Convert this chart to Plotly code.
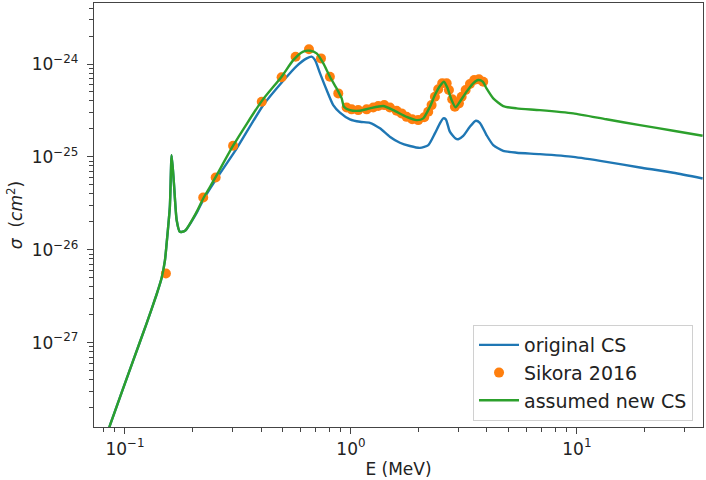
import plotly.graph_objects as go

# cross sections (E in MeV, sigma in cm^2)
e_new = [0.085, 0.0858, 0.1088, 0.1247, 0.138, 0.1454, 0.1503, 0.1529, 0.158, 0.1609,
         0.1647, 0.1694, 0.175, 0.1843, 0.2076, 0.222, 0.25, 0.301, 0.403, 0.4935,
         0.5555, 0.615, 0.659, 0.705, 0.754, 0.807, 0.864, 0.91, 0.931, 0.99,
         1.097, 1.213, 1.39, 1.539, 1.764, 1.953, 2.089, 2.237, 2.353, 2.476,
         2.58, 2.667, 2.79, 2.905, 3.034, 3.25, 3.475, 3.66, 3.83, 3.98,
         4.264, 4.72, 5.41, 6.86, 9.63, 13.5, 19.0, 26.7, 36.0]
sigma_new = [1.2e-28, 1.29e-28, 6.45e-28, 1.61e-27, 3.3e-27, 5.0e-27, 7.7e-27, 1.17e-26, 2.9e-26, 1.04e-25,
             5.2e-26, 2.08e-26, 1.56e-26, 1.6e-26, 2.56e-26, 3.57e-26, 5.86e-26, 1.32e-25, 3.99e-25, 7.3e-25,
             1.1e-24, 1.36e-24, 1.39e-24, 1.3e-24, 1.02e-24, 7.3e-25, 5.47e-25, 4.27e-25, 3.47e-25, 3.19e-25,
             3.14e-25, 3.33e-25, 3.53e-25, 3.19e-25, 2.7e-25, 2.49e-25, 2.6e-25, 3.47e-25, 4.63e-25, 5.79e-25,
             6.45e-25, 5.61e-25, 4.09e-25, 3.41e-25, 3.93e-25, 5.04e-25, 6.2e-25, 6.73e-25, 6.45e-25, 5.47e-25,
             4.27e-25, 3.53e-25, 3.33e-25, 3.19e-25, 2.94e-25, 2.54e-25, 2.2e-25, 1.91e-25, 1.69e-25]

e_orig = [0.085, 0.0858, 0.1088, 0.1247, 0.138, 0.1454, 0.1503, 0.1529, 0.158, 0.1609,
          0.1647, 0.1694, 0.175, 0.1843, 0.2076, 0.222, 0.25, 0.312, 0.409, 0.5017,
          0.575, 0.637, 0.67, 0.694, 0.73, 0.781, 0.835, 0.894, 0.99, 1.097,
          1.213, 1.344, 1.486, 1.647, 1.824, 2.02, 2.2, 2.353, 2.476, 2.562,
          2.63, 2.74, 2.905, 2.985, 3.14, 3.36, 3.57, 3.72, 3.98, 4.264,
          4.72, 5.41, 6.86, 9.63, 13.5, 19.0, 26.7, 36.0]
sigma_orig = [1.2e-28, 1.29e-28, 6.45e-28, 1.61e-27, 3.3e-27, 5.0e-27, 7.7e-27, 1.17e-26, 2.9e-26, 1.04e-25,
              5.2e-26, 2.08e-26, 1.56e-26, 1.6e-26, 2.5e-26, 3.45e-26, 5.5e-26, 1.23e-25, 3.6e-25, 6.6e-25,
              9.5e-25, 1.15e-24, 1.2e-24, 1.1e-24, 7.94e-25, 5.25e-25, 3.61e-25, 3.0e-25, 2.54e-25, 2.39e-25,
              2.33e-25, 2.03e-25, 1.65e-25, 1.42e-25, 1.31e-25, 1.25e-25, 1.34e-25, 1.79e-25, 2.3e-25, 2.6e-25,
              2.54e-25, 1.87e-25, 1.58e-25, 1.55e-25, 1.68e-25, 2.11e-25, 2.45e-25, 2.33e-25, 1.72e-25, 1.34e-25,
              1.16e-25, 1.11e-25, 1.07e-25, 1.0e-25, 8.85e-26, 7.7e-26, 6.75e-26, 5.86e-26]

# Sikora 2016 measured points
e_sikora = [0.1518, 0.222, 0.252, 0.301, 0.403, 0.4935, 0.569, 0.652, 0.737, 0.807,
            0.879, 0.957, 1.007, 1.077, 1.174, 1.255, 1.321, 1.404, 1.488, 1.593,
            1.676, 1.764, 1.867, 1.985, 2.110, 2.198, 2.275, 2.353, 2.434, 2.535,
            2.652, 2.714, 2.807, 2.884, 3.006, 3.09, 3.218, 3.362, 3.512, 3.685, 3.85]
sigma_sikora = [5.56e-27, 3.66e-26, 6.0e-26, 1.32e-25, 3.93e-25, 7.2e-25, 1.2e-24, 1.44e-24, 1.15e-24, 7.3e-25,
                4.83e-25, 3.41e-25, 3.25e-25, 3.19e-25, 3.25e-25, 3.41e-25, 3.53e-25, 3.61e-25, 3.41e-25, 3.14e-25,
                2.94e-25, 2.7e-25, 2.54e-25, 2.49e-25, 2.67e-25, 3.06e-25, 3.61e-25, 4.45e-25, 5.34e-25, 6.2e-25,
                6.2e-25, 5.25e-25, 4.17e-25, 3.47e-25, 3.77e-25, 4.45e-25, 5.25e-25, 6.09e-25, 6.73e-25, 6.84e-25, 6.45e-25]

x_ticks = [0.1, 1, 10]
x_labels = ["10<sup>−1</sup>", "10<sup>0</sup>", "10<sup>1</sup>"]
y_ticks = [1e-27, 1e-26, 1e-25, 1e-24]
y_labels = ["10<sup>−27</sup>", "10<sup>−26</sup>", "10<sup>−25</sup>", "10<sup>−24</sup>"]

x_minor = [m * 10.0 ** k for k in (-2, -1, 0, 1) for m in range(2, 10)]
y_minor = [m * 10.0 ** k for k in (-29, -28, -27, -26, -25, -24) for m in range(2, 10)]

fig = go.Figure()
fig.add_trace(go.Scatter(x=e_orig, y=sigma_orig, mode="lines", name="original CS",
                         line=dict(color="#1f77b4", width=2.4, shape="spline", smoothing=0.6)))
fig.add_trace(go.Scatter(x=e_sikora, y=sigma_sikora, mode="markers", name="Sikora 2016",
                         marker=dict(color="#ff7f0e", size=10, line=dict(width=0))))
fig.add_trace(go.Scatter(x=e_new, y=sigma_new, mode="lines", name="assumed new CS",
                         line=dict(color="#2ca02c", width=2.4, shape="spline", smoothing=0.6)))

axis_style = dict(showline=True, linecolor="#444", linewidth=1.3, mirror=True, showgrid=False,
                  zeroline=False, ticks="outside", ticklen=6, tickwidth=1.2, tickcolor="#444",
                  automargin=False,
                  tickfont=dict(family="DejaVu Sans", size=17, color="#222"))

fig.update_layout(
    width=706, height=480,
    margin=dict(l=94, r=3, t=3, b=53),
    paper_bgcolor="white", plot_bgcolor="white",
    font=dict(family="DejaVu Sans", size=17, color="#222"),
    xaxis=dict(type="log", range=[-1.137, 1.558], tickmode="array", tickvals=x_ticks, ticktext=x_labels,
               minor=dict(tickmode="array", tickvals=x_minor, ticks="outside", ticklen=3.5,
                          tickcolor="#444", showgrid=False),
               title=dict(text="E (MeV)", standoff=5, font=dict(size=17)), **axis_style),
    yaxis=dict(type="log", range=[-27.908, -23.343], tickmode="array", tickvals=y_ticks, ticktext=y_labels,
               ticklabelstandoff=5,
               minor=dict(tickmode="array", tickvals=y_minor, ticks="outside", ticklen=3.5,
                          tickcolor="#444", showgrid=False),
               title=dict(text="<i>σ</i>  (<i>cm</i><sup>2</sup>)", standoff=4, font=dict(size=17)),
               **axis_style),
    legend=dict(x=0.9836, xanchor="right", y=0.014, yanchor="bottom",
                bgcolor="rgba(255,255,255,0.8)", bordercolor="#d0d0d0", borderwidth=1,
                itemwidth=40,
                font=dict(family="DejaVu Sans", size=19, color="#222")),
    showlegend=True,
)

fig.write_html("out.html", config={"displayModeBar": False},
               post_script="document.body.style.margin='0px';")
